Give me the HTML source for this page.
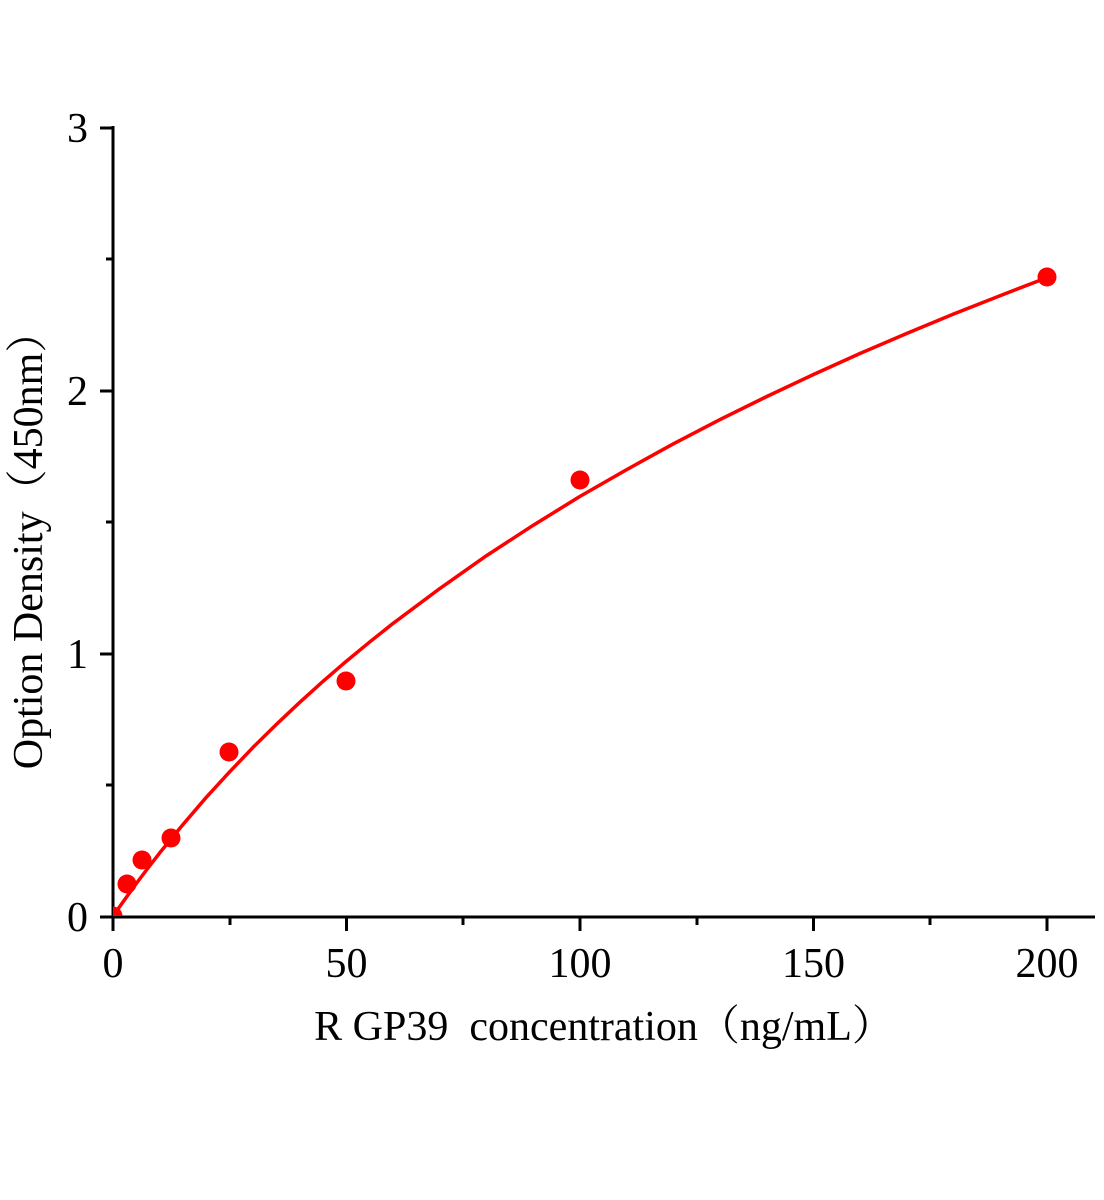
<!DOCTYPE html>
<html><head><style>body{margin:0;background:#fff}svg{display:block}</style></head><body>
<svg width="1104" height="1200" viewBox="0 0 1104 1200" xmlns="http://www.w3.org/2000/svg" font-family="Liberation Serif, 'Noto Serif CJK SC', serif">
<defs><clipPath id="c"><rect x="113" y="100" width="990" height="816"/></clipPath></defs>
<g stroke="#000" stroke-width="3" fill="none">
<line x1="113" y1="126" x2="113" y2="918"/>
<line x1="111" y1="917" x2="1095" y2="917"/>
<line x1="100" y1="128" x2="113" y2="128"/>
<line x1="100" y1="391" x2="113" y2="391"/>
<line x1="100" y1="654" x2="113" y2="654"/>
<line x1="100" y1="917" x2="113" y2="917"/>
<line x1="106" y1="259" x2="113" y2="259"/>
<line x1="106" y1="522" x2="113" y2="522"/>
<line x1="106" y1="785" x2="113" y2="785"/>
<line x1="113" y1="917" x2="113" y2="931"/>
<line x1="346.5" y1="917" x2="346.5" y2="931"/>
<line x1="580" y1="917" x2="580" y2="931"/>
<line x1="813.5" y1="917" x2="813.5" y2="931"/>
<line x1="1047" y1="917" x2="1047" y2="931"/>
<line x1="230" y1="917" x2="230" y2="925"/>
<line x1="463" y1="917" x2="463" y2="925"/>
<line x1="697" y1="917" x2="697" y2="925"/>
<line x1="930" y1="917" x2="930" y2="925"/>
</g>
<g font-size="42" fill="#000">
<g text-anchor="end"><text x="88" y="142">3</text><text x="88" y="405">2</text><text x="88" y="668">1</text><text x="88" y="931">0</text></g>
<g text-anchor="middle"><text x="113" y="977">0</text><text x="346.5" y="977">50</text><text x="580" y="977">100</text><text x="813.5" y="977">150</text><text x="1047" y="977">200</text></g>
<text x="604" y="1040" text-anchor="middle" xml:space="preserve">R GP39  concentration（ng/mL）</text>
<text transform="translate(42,540) rotate(-90)" text-anchor="middle">Option Density（450nm）</text>
</g>
<g clip-path="url(#c)">
<polyline fill="none" stroke="#f00" stroke-width="3.5" stroke-linejoin="round" points="113,916 124.7,899.6 136.4,883.4 148,868 159.7,852.9 183,824.5 206.4,797.2 229.8,771.7 253.1,747.3 276.5,724.3 299.8,702.3 323.2,681.2 346.5,661.1 369.9,641.8 393.2,623.3 440,588.4 486.6,555.6 533.3,525.2 580,496.4 626.7,469.6 673.4,443.8 720,419.6 766.8,396.5 813.5,374.5 860.2,353.4 906.9,333.4 953.6,314 1000.3,295.6 1047,277.6"/>
<g fill="#f00"><circle cx="113" cy="916" r="9.5"/><circle cx="127" cy="884" r="9.5"/><circle cx="142" cy="860" r="9.5"/><circle cx="171" cy="838" r="9.5"/><circle cx="229" cy="752" r="9.5"/><circle cx="346" cy="681" r="9.5"/><circle cx="580" cy="480" r="9.5"/><circle cx="1047" cy="277" r="9.5"/></g>
</g>
</svg>
</body></html>
